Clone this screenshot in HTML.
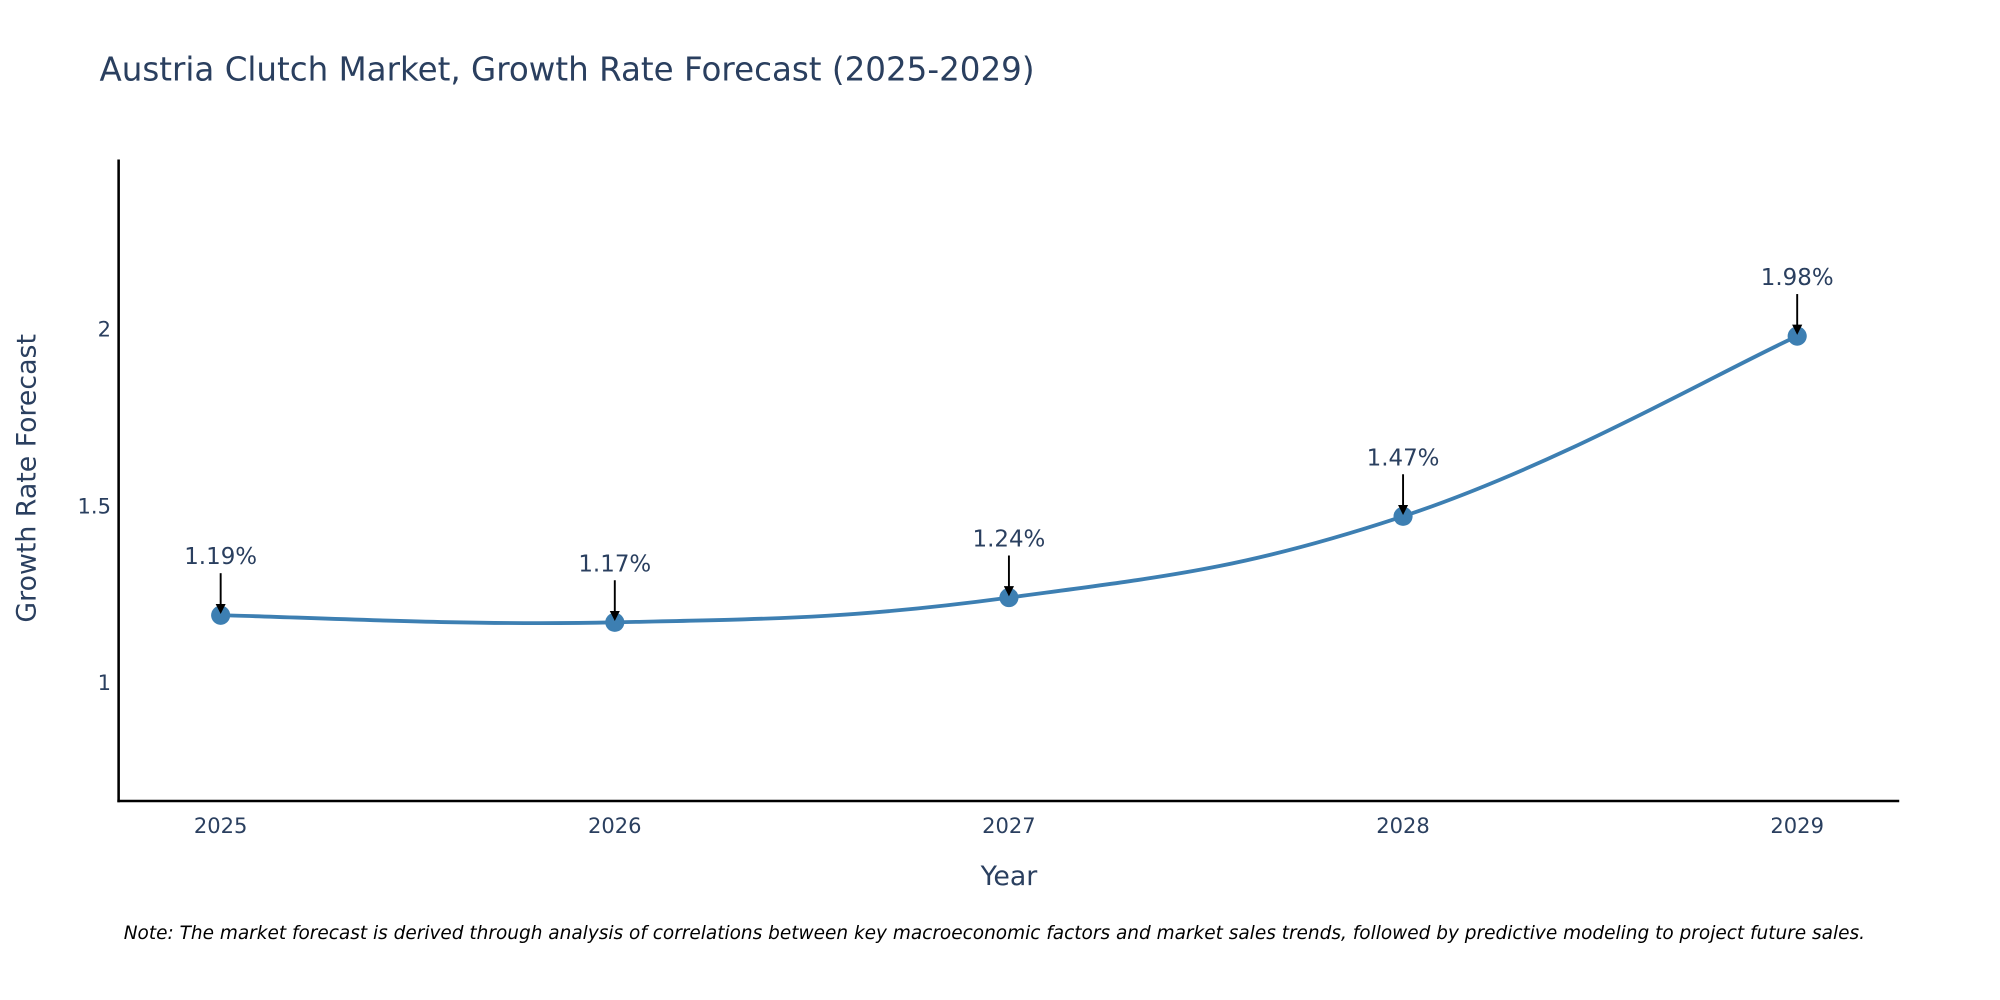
<!DOCTYPE html>
<html><head><meta charset="utf-8"><style>html,body{margin:0;padding:0;background:#fff}svg{display:block}text{font-family:"DejaVu Sans","Liberation Sans",sans-serif}</style></head>
<body>
<svg id="chart" width="2000" height="1000" viewBox="0 0 1568 784" xmlns="http://www.w3.org/2000/svg">
<rect width="1568" height="784" fill="#fff"/>
<text x="78" y="63" font-size="25.5" fill="#2a3f5f">Austria Clutch Market, Growth Rate Forecast (2025-2029)</text>
<g id="yticks"></g><g id="xticks"></g>
<path id="line" fill="none" stroke="#3d7fb2" stroke-width="3"/>
<g id="points"></g><g id="annots"></g>
<line x1="93" y1="125" x2="93" y2="629" stroke="#000" stroke-width="2"/>
<line x1="92" y1="628" x2="1489" y2="628" stroke="#000" stroke-width="2"/>
<text transform="translate(28,375) rotate(-90)" text-anchor="middle" font-size="21" fill="#2a3f5f">Growth Rate Forecast</text>
<text x="791" y="694" text-anchor="middle" font-size="21" fill="#2a3f5f">Year</text>
<text x="97" y="736" font-size="14.5" font-style="italic" fill="#000">Note: The market forecast is derived through analysis of correlations between key macroeconomic factors and market sales trends, followed by predictive modeling to project future sales.</text>
<defs><marker id="ah" markerWidth="8" markerHeight="8" refX="6" refY="4" orient="auto" markerUnits="userSpaceOnUse" viewBox="0 0 8 8"><path d="M0,0 L8,4 L0,8 z" fill="#000"/></marker></defs>
</svg>
<script>
const years = [2025, 2026, 2027, 2028, 2029];
const values = [1.19, 1.17, 1.24, 1.47, 1.98];
const labels = ["1.19%", "1.17%", "1.24%", "1.47%", "1.98%"];
const yTicks = [1, 1.5, 2];
const NS = "http://www.w3.org/2000/svg";
const xs = y => 173 + (y - 2025) * 309;
const ys = v => 535 - (v - 1) * 277;
function mk(tag, attrs, parent) {
  const e = document.createElementNS(NS, tag);
  for (const k in attrs) e.setAttribute(k, attrs[k]);
  parent.appendChild(e); return e;
}
const yt = document.getElementById('yticks');
yTicks.forEach(t => {
  const e = mk('text', {x: 87, y: ys(t) + 6, 'text-anchor': 'end', 'font-size': 16.5, fill: '#2a3f5f'}, yt);
  
  
  e.textContent = t;
});
const xt = document.getElementById('xticks');
years.forEach(y => {
  const e = mk('text', {x: xs(y), y: 653, 'text-anchor': 'middle', 'font-size': 16.5, fill: '#2a3f5f'}, xt);
  
  
  e.textContent = y;
});
const P = years.map((y, i) => [xs(y), ys(values[i])]);
let d = `M${P[0][0]},${P[0][1]}`;
for (let i = 0; i < P.length - 1; i++) {
  const p0 = P[i - 1] || P[i], p1 = P[i], p2 = P[i + 1], p3 = P[i + 2] || P[i + 1];
  const t = 0.2;
  const c1 = [p1[0] + (p2[0] - p0[0]) * t, p1[1] + (p2[1] - p0[1]) * t];
  const c2 = [p2[0] - (p3[0] - p1[0]) * t, p2[1] - (p3[1] - p1[1]) * t];
  d += ` C${c1[0]},${c1[1]} ${c2[0]},${c2[1]} ${p2[0]},${p2[1]}`;
}
document.getElementById('line').setAttribute('d', d);
const pg = document.getElementById('points'), ag = document.getElementById('annots');
P.forEach((p, i) => {
  const c = mk('circle', {cx: p[0], cy: p[1], r: 7.5, fill: '#3d7fb2'}, pg);
  
  
  const l = mk('line', {x1: p[0], y1: p[1] - 33, x2: p[0], y2: p[1] - 3, stroke: '#000', 'stroke-width': 1.5, 'marker-end': 'url(#ah)'}, ag);
  
  
  const tx = mk('text', {x: p[0], y: p[1] - 40, 'text-anchor': 'middle', 'font-size': 18, fill: '#2a3f5f'}, ag);
  
  
  tx.textContent = labels[i];
});
</script>
</body></html>
